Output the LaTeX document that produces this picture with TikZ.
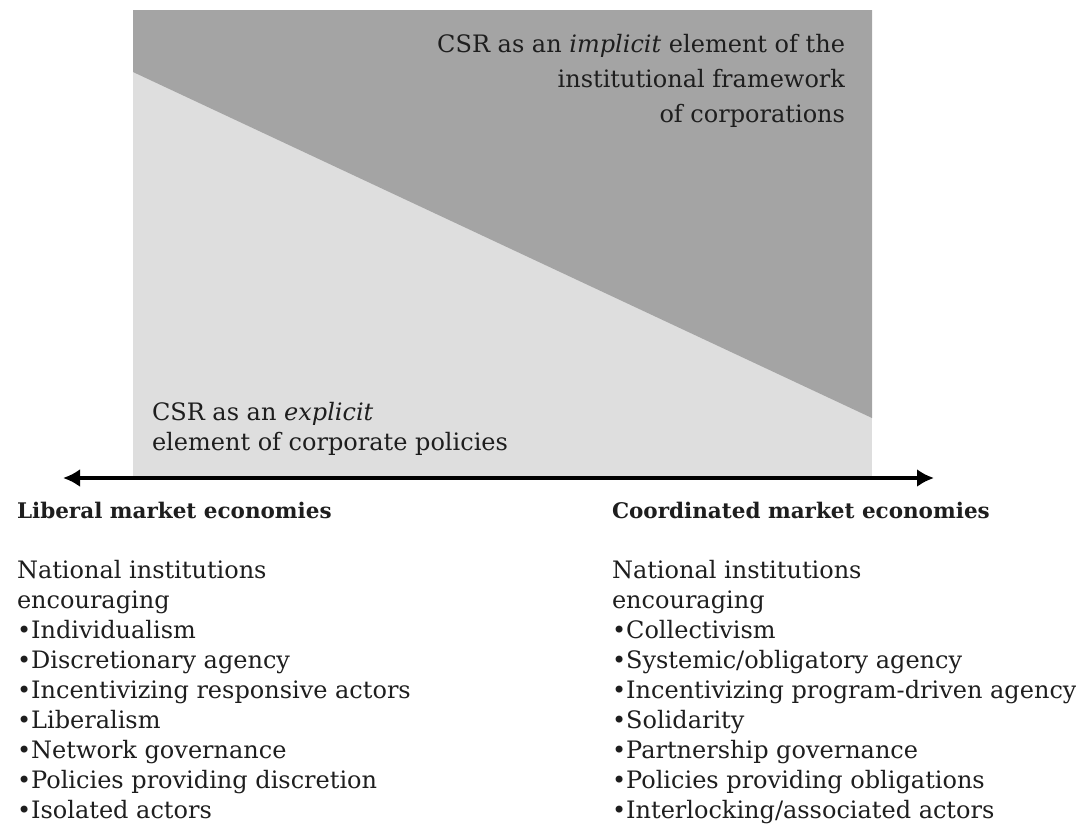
\documentclass[tikz,border=0pt]{standalone}
\usepackage{fontspec}
\setmainfont{DejaVu Serif}
\usetikzlibrary{arrows.meta}
\definecolor{darkzone}{HTML}{A4A4A4}
\definecolor{lightzone}{HTML}{DEDEDE}
\definecolor{ink}{HTML}{1E1E1E}
\newcommand{\coltitle}[1]{{\fontsize{21.5}{30}\selectfont\bfseries #1}}
\begin{document}
\begin{tikzpicture}[x=1pt,y=-1pt,
  every node/.style={inner sep=0pt,outer sep=0pt,text=ink},
  zonetext/.style={font=\fontsize{24}{35}\selectfont},
  coltext/.style={font=\fontsize{24}{30}\selectfont,align=left,anchor=north west},
  axis/.style={line width=4.5pt,draw=black,{Latex[length=17pt,width=18pt]}-{Latex[length=17pt,width=18pt]}}]
\useasboundingbox (0,0) rectangle (1076,828);
\fill[lightzone] (133,10) rectangle (872,476);
\fill[darkzone] (133,10) -- (872,10) -- (872,418) -- (133,72) -- cycle;

\node[zonetext,align=right,anchor=north east] (implicit) at (845,34)
  {CSR as an \textit{implicit} element of the\\institutional framework\\of corporations};
\node[zonetext,font=\fontsize{24}{30}\selectfont,align=left,anchor=north west] (explicit) at (152,402)
  {CSR as an \textit{explicit}\\element of corporate policies};

\coordinate (aL) at (63,478);
\coordinate (aR) at (934,478);
\draw[axis] (aL) -- (aR);

\node[coltext] (lme) at (17,502)
  {\coltitle{Liberal market economies}\\[30pt]
   National institutions\\
   encouraging\\
   •Individualism\\
   •Discretionary agency\\
   •Incentivizing responsive actors\\
   •Liberalism\\
   •Network governance\\
   •Policies providing discretion\\
   •Isolated actors};
\node[coltext] (cme) at (612,502)
  {\coltitle{Coordinated market economies}\\[30pt]
   National institutions\\
   encouraging\\
   •Collectivism\\
   •Systemic/obligatory agency\\
   •Incentivizing program-driven agency\\
   •Solidarity\\
   •Partnership governance\\
   •Policies providing obligations\\
   •Interlocking/associated actors};
\end{tikzpicture}
\end{document}
